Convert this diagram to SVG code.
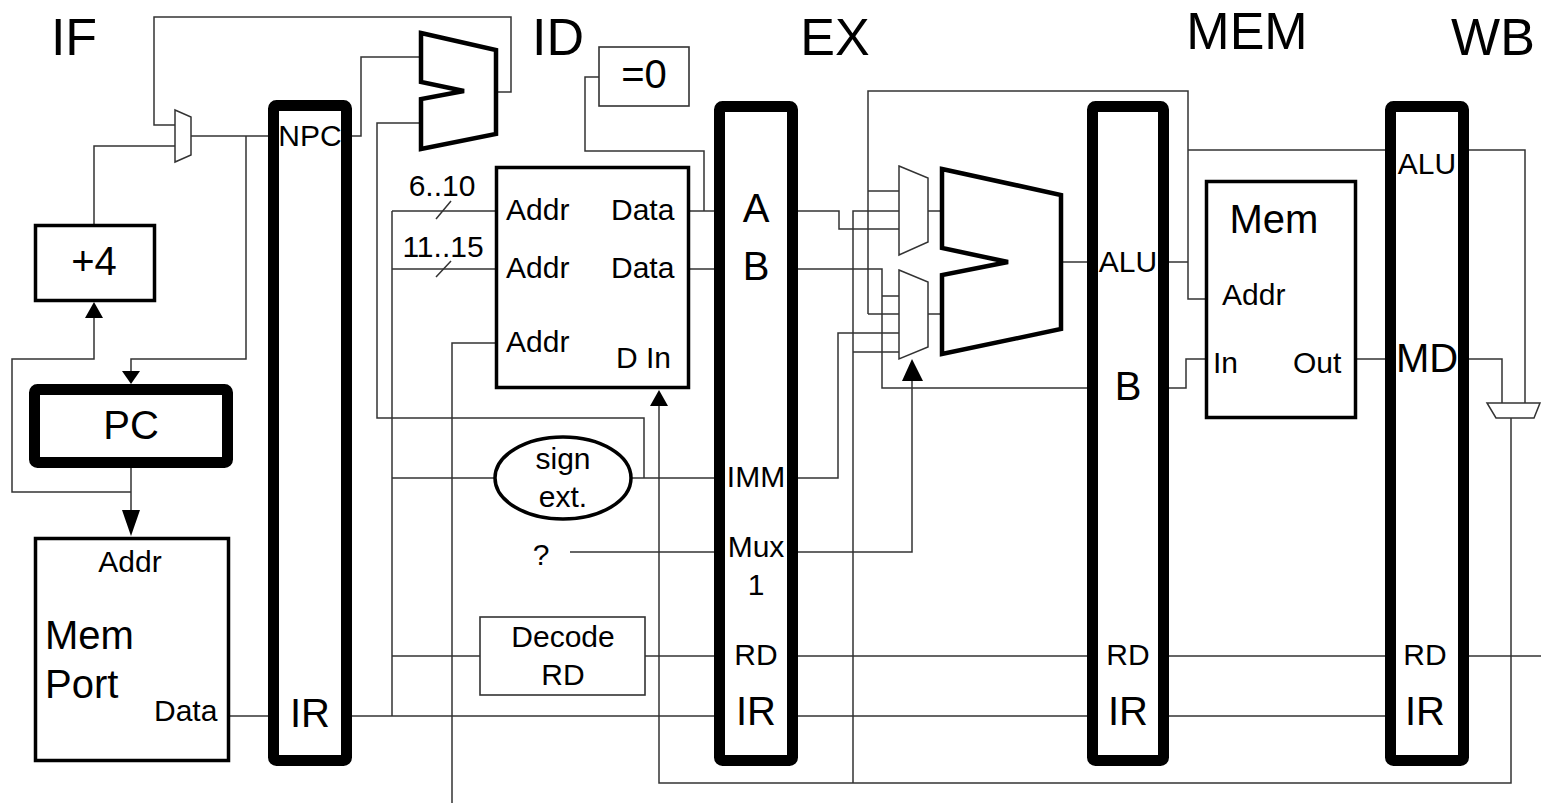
<svg xmlns="http://www.w3.org/2000/svg" width="1541" height="803" viewBox="0 0 1541 803">
<style>
text{font-family:"Liberation Sans",Arial,sans-serif;fill:#000}
.stage{font-size:52px}
.big{font-size:40px}
.med{font-size:30px}
.c{text-anchor:middle}
.reg{fill:#fff;stroke:#000;stroke-width:11;stroke-linejoin:round}
.box{fill:#fff;stroke:#000;stroke-width:3.5}
.thinbox{fill:#fff;stroke:#333;stroke-width:1.6}
.unit{fill:#fff;stroke:#000;stroke-width:4.5;stroke-linejoin:miter}
.mux{fill:#fff;stroke:#333;stroke-width:1.5}
.w{fill:none;stroke:#333;stroke-width:1.5}
.ah{fill:#000;stroke:none}
</style>
<rect width="1541" height="803" fill="#fff"/>

<g id="connectors">
<path class="w" d="M496,92 H511 V17 H154 V125 H175"/>
<path class="w" d="M94,224 V146 H175"/>
<path class="w" d="M191,136 H268"/>
<path class="w" d="M246,136 V359 H131 V372"/>
<path class="w" d="M131,468 V511"/>
<path class="w" d="M131,492 H12 V359 H94 V317"/>
<path class="w" d="M229,716 H268"/>
<path class="w" d="M352,136 H361 V57 H421"/>
<path class="w" d="M352,716 H714"/>
<path class="w" d="M392,211 V716 M392,211 H495 M392,269 H495 M392,478 H495 M392,656 H480"/>
<path class="w" d="M451,201 L436,219 M451,261 L436,277"/>
<path class="w" d="M421,123 H377 V418 H644 V478"/>
<path class="w" d="M495,343 H452 V803"/>
<path class="w" d="M631,478 H714"/>
<path class="w" d="M689,211 H714 M689,269 H714"/>
<path class="w" d="M704,211 V151 H585 V77 H599"/>
<path class="w" d="M570,552 H714"/>
<path class="w" d="M645,656 H714"/>
<path class="w" d="M659,405 V783 H1511 V418"/>
<path class="w" d="M853,783 V211 H899 M853,352 H899"/>
<path class="w" d="M798,211 H839 V229 H899"/>
<path class="w" d="M798,269 H882 V388 H1087 M882,296 H899"/>
<path class="w" d="M798,478 H838 V333 H899"/>
<path class="w" d="M798,552 H912 V380"/>
<path class="w" d="M868,314 V91 H1188 V299 H1206 M868,191 H899 M868,314 H899 M1169,262 H1188 M1188,150 H1385"/>
<path class="w" d="M928,211 H942 M928,314 H942"/>
<path class="w" d="M1061,262 H1087"/>
<path class="w" d="M1169,388 H1186 V359 H1206"/>
<path class="w" d="M1356,359 H1385"/>
<path class="w" d="M798,656 H1087 M1169,656 H1385 M1469,656 H1541"/>
<path class="w" d="M798,716 H1087 M1169,716 H1385"/>
<path class="w" d="M1469,150 H1525 V403 M1469,359 H1502 V403"/>
<polygon class="ah" points="94,302 85,318 103,318"/>
<polygon class="ah" points="131,384 122,371 140,371"/>
<polygon class="ah" points="131,536 122,510 140,510"/>
<polygon class="ah" points="659,390 650,406 668,406"/>
<polygon class="ah" points="912,359 902,381 923,381"/>
</g>

<g id="stage-labels">
<text class="stage c" x="74" y="55">IF</text>
<text class="stage c" x="558" y="55">ID</text>
<text class="stage c" x="835" y="55">EX</text>
<text class="stage c" x="1247" y="49">MEM</text>
<text class="stage c" x="1493" y="55">WB</text>
</g>

<g id="if-mux"><polygon class="mux" points="175,110 191,117 191,155 175,162"/></g>

<g id="plus4">
<rect class="box" x="35.5" y="225.5" width="119" height="75"/>
<text class="big c" x="94" y="275">+4</text>
</g>

<g id="pc">
<rect class="reg" x="34.5" y="389.5" width="193" height="73" rx="3"/>
<text class="big c" x="131" y="439">PC</text>
</g>

<g id="mem-port">
<rect class="box" x="35.5" y="538.5" width="193" height="222"/>
<text class="med c" x="130" y="572">Addr</text>
<text class="big" x="45" y="649">Mem</text>
<text class="big" x="45" y="698">Port</text>
<text class="med" x="154" y="721">Data</text>
</g>

<g id="if-id">
<rect class="reg" x="273.5" y="105.5" width="73" height="655" rx="3"/>
<text class="med c" x="310" y="146">NPC</text>
<text class="big c" x="310" y="727">IR</text>
</g>

<g id="branch-adder"><polygon class="unit" points="421,33 496,50 496,134 421,149 421,99 464,91 421,82"/></g>

<g id="field-labels">
<text class="med c" x="442" y="196">6..10</text>
<text class="med c" x="443" y="257">11..15</text>
</g>

<g id="regfile">
<rect class="box" x="496.5" y="167.5" width="192" height="220"/>
<text class="med" x="506" y="220">Addr</text>
<text class="med" x="506" y="278">Addr</text>
<text class="med" x="506" y="352">Addr</text>
<text class="med" x="611" y="220">Data</text>
<text class="med" x="611" y="278">Data</text>
<text class="med" x="616" y="368">D In</text>
</g>

<g id="zero-test">
<rect class="thinbox" x="599" y="47" width="90" height="59"/>
<text class="big c" x="644" y="88">=0</text>
</g>

<g id="sign-ext">
<ellipse cx="563" cy="478" rx="68" ry="41" fill="#fff" stroke="#000" stroke-width="3.5"/>
<text class="med c" x="563" y="469">sign</text>
<text class="med c" x="563" y="507">ext.</text>
</g>

<g id="mux1-src"><text class="med c" x="541" y="565">?</text></g>

<g id="decode-rd">
<rect class="thinbox" x="480" y="617" width="165" height="78"/>
<text class="med c" x="563" y="647">Decode</text>
<text class="med c" x="563" y="685">RD</text>
</g>

<g id="id-ex">
<rect class="reg" x="719.5" y="106.5" width="73" height="654" rx="3"/>
<text class="big c" x="756" y="222">A</text>
<text class="big c" x="756" y="280">B</text>
<text class="med c" x="756" y="487">IMM</text>
<text class="med c" x="756" y="557">Mux</text>
<text class="med c" x="756" y="595">1</text>
<text class="med c" x="756" y="665">RD</text>
<text class="big c" x="756" y="725">IR</text>
</g>

<g id="ex-mux-a"><polygon class="mux" points="899,166 928,178 928,242 899,255"/></g>
<g id="ex-mux-b"><polygon class="mux" points="899,270 928,282 928,347 899,359"/></g>

<g id="alu"><polygon class="unit" points="942,169 1061,195 1061,329 942,354 942,275 1008,262 942,248"/></g>

<g id="ex-mem">
<rect class="reg" x="1092.5" y="106.5" width="71" height="654" rx="3"/>
<text class="med c" x="1128" y="272">ALU</text>
<text class="big c" x="1128" y="400">B</text>
<text class="med c" x="1128" y="665">RD</text>
<text class="big c" x="1128" y="725">IR</text>
</g>

<g id="data-mem">
<rect class="box" x="1206.5" y="181.5" width="149" height="236"/>
<text class="big c" x="1274" y="233">Mem</text>
<text class="med" x="1222" y="305">Addr</text>
<text class="med" x="1213" y="373">In</text>
<text class="med" x="1293" y="373">Out</text>
</g>

<g id="mem-wb">
<rect class="reg" x="1390.5" y="106.5" width="73" height="654" rx="3"/>
<text class="med c" x="1427" y="174">ALU</text>
<text class="big c" x="1427" y="372">MD</text>
<text class="med c" x="1425" y="665">RD</text>
<text class="big c" x="1425" y="725">IR</text>
</g>

<g id="wb-mux"><polygon class="mux" points="1487,403 1540,403 1534,418 1496,418"/></g>
</svg>
